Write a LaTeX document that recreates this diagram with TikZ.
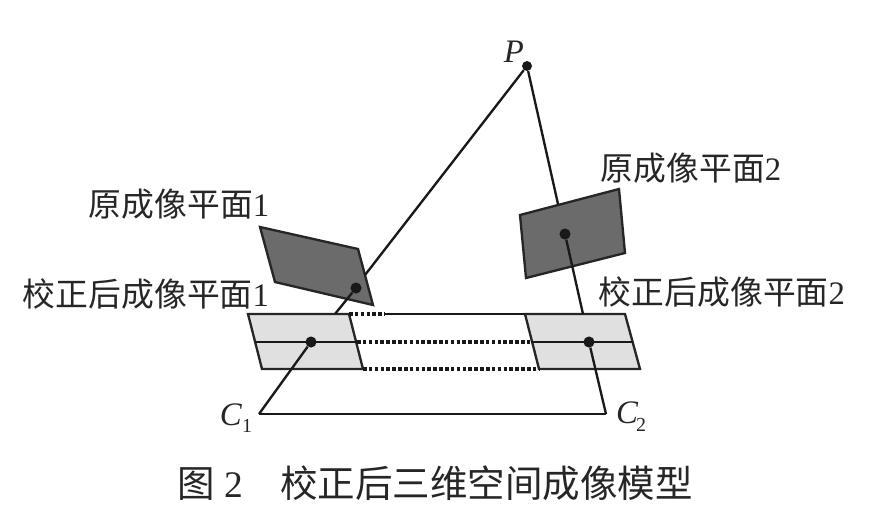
\documentclass[tikz,border=0pt]{standalone}
\usepackage{fontspec}
\setmainfont{Liberation Serif}
\newfontfamily\cjk{Noto Sans CJK SC}
\tikzset{
    darkplane/.style={draw=black!85,fill=black!58,line width=2pt,line join=miter},
    lightplane/.style={draw=black!85,fill=black!12,line width=2pt},
    ray/.style={draw=black!90,line width=2pt},
    linkdots/.style={draw=black!90,line width=2.6pt,dash pattern=on 3pt off 2pt},
    pt/.style={circle,fill=black!90,inner sep=0pt,minimum size=9.5pt},
    lbl/.style={inner sep=0pt,font=\fontsize{28}{28}\selectfont,text=black!85},
    letter/.style={inner sep=0pt,font=\fontsize{28}{28}\selectfont\itshape,text=black!85}
}
\begin{document}
\begin{tikzpicture}[x=0.03cm,y=-0.03cm]
    \useasboundingbox (0,0) rectangle (873,520);
    % image planes
    \coordinate (d1a) at (260,227);
    \coordinate (d1b) at (358,249);
    \coordinate (d1c) at (373,305);
    \coordinate (d1d) at (275,282);
    \coordinate (d2a) at (520,215);
    \coordinate (d2b) at (619,189);
    \coordinate (d2c) at (625,253);
    \coordinate (d2d) at (526,278);
    \coordinate (l1a) at (248,314);
    \coordinate (l1b) at (349,314);
    \coordinate (l1c) at (363,369);
    \coordinate (l1d) at (262,369);
    \coordinate (l2a) at (525,314);
    \coordinate (l2b) at (625,314);
    \coordinate (l2c) at (640,369);
    \coordinate (l2d) at (539,369);
    \draw[lightplane] (l1a) -- (l1b) -- (l1c) -- (l1d) -- cycle;
    \draw[lightplane] (l2a) -- (l2b) -- (l2c) -- (l2d) -- cycle;
    \draw[darkplane] (d1a) -- (d1b) -- (d1c) -- (d1d) -- cycle;
    \draw[darkplane] (d2a) -- (d2b) -- (d2c) -- (d2d) -- cycle;

    % points
    \node[pt,minimum size=8.5pt] (P) at (527,66) {};
    \node[pt] (p1) at (356,288) {};
    \node[pt] (p2) at (565,234) {};
    \node[pt] (q1) at (311,342) {};
    \node[pt] (q2) at (589,342) {};
    \coordinate (C1) at (259,414);
    \coordinate (C2) at (606,414);

    % free ends on the plane edges
    \coordinate (e1) at (365,275);
    \coordinate (e2) at (558,204);
    \coordinate (f1) at (335,314);
    \coordinate (f2) at (583,314);
    \coordinate (m1a) at (255,342);
    \coordinate (m1b) at (357,342);
    \coordinate (m2a) at (531,342);
    \coordinate (m2b) at (633,342);
    \coordinate (t1) at (385,314);

    % rays
    \draw[ray] (P) -- (e1);
    \draw[ray] (P) -- (e2);
    \draw[ray] (p1) -- (f1);
    \draw[ray] (p2) -- (f2);
    \draw[ray] (q1) -- (C1);
    \draw[ray] (q2) -- (C2);
    \draw[ray] (C1) -- (C2);
    \draw[ray] (m1a) -- (m1b);
    \draw[ray] (m2a) -- (m2b);

    % links between the corrected planes
    \draw[linkdots] (l1b) -- (t1);
    \draw[ray] (t1) -- (l2a);
    \draw[linkdots] (m1b) -- (m2a);
    \draw[linkdots] (l1c) -- (l2d);

    % labels
    \node[letter] (Plbl) at (514,52) {P};
    \node[letter,anchor=east] (C1lbl) at (242,415) {C};
    \node[lbl,font=\fontsize{17}{17}\selectfont] (C1sub) at (247,426) {1};
    \node[letter,anchor=west] (C2lbl) at (616,413) {C};
    \node[lbl,font=\fontsize{17}{17}\selectfont] (C2sub) at (641,425) {2};
    \node[lbl] (n1) at (179,204) {{\cjk 原成像平面}1};
    \node[lbl] (n2) at (691,168) {{\cjk 原成像平面}2};
    \node[lbl] (n3) at (146,294) {{\cjk 校正后成像平面}1};
    \node[lbl] (n4) at (722,292) {{\cjk 校正后成像平面}2};
    \node[lbl,font=\fontsize{32}{32}\selectfont] (cap) at (435,483) {{\cjk 图} 2\hspace{1em}{\cjk 校正后三维空间成像模型}};
\end{tikzpicture}
\end{document}
